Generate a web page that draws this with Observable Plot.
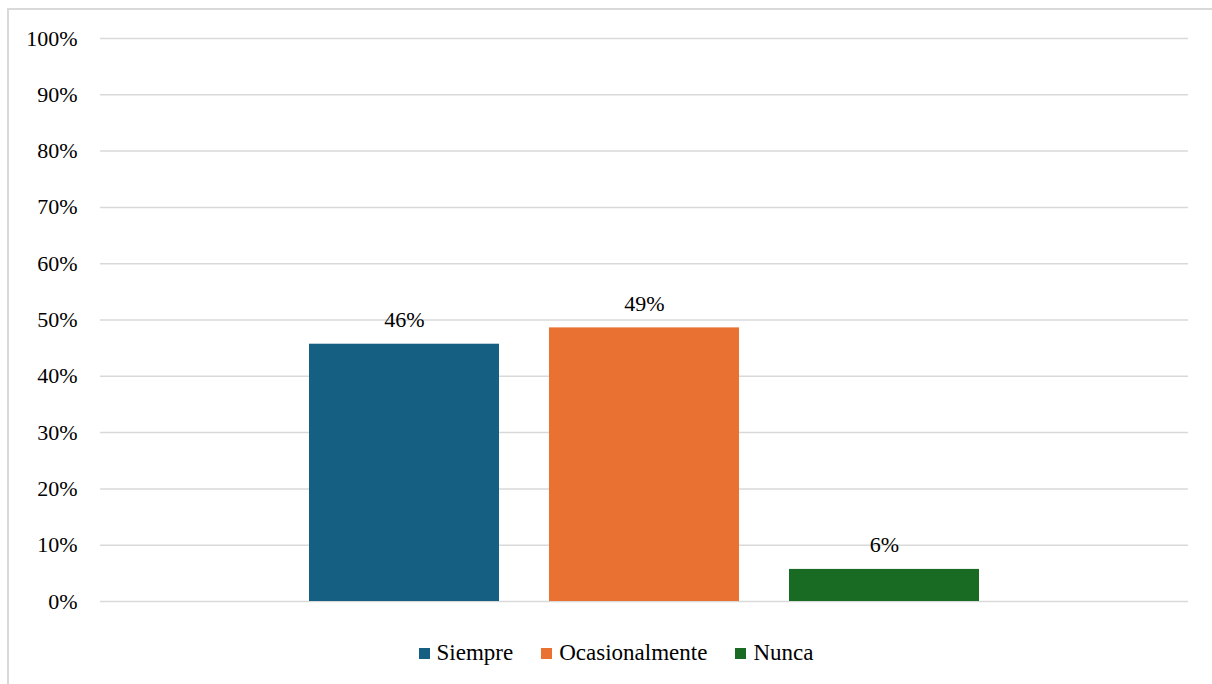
<!DOCTYPE html>
<html>
<head>
<meta charset="utf-8">
<script src="https://cdn.jsdelivr.net/npm/d3@7"></script>
<script src="https://cdn.jsdelivr.net/npm/@observablehq/plot@0.6"></script>
<style>
  html, body { margin: 0; padding: 0; background: #fff; }
  body { width: 1212px; height: 684px; position: relative; overflow: hidden; font-family: "Liberation Serif", "Times New Roman", serif; }
  #frame { position: absolute; left: 7px; top: 8px; width: 1300px; height: 800px; border-left: 2px solid #d9d9d9; border-top: 2px solid #d9d9d9; box-sizing: border-box; }
  #chart { position: absolute; left: 0; top: 0; }
  #chart svg text { font-family: "Liberation Serif", "Times New Roman", serif; }
  #legend { position: absolute; left: 0; top: 640px; width: 1232px; display: flex; justify-content: center; gap: 28px; font-size: 23px; color: #000; font-family: "Liberation Serif", "Times New Roman", serif; }
  .item { display: flex; align-items: center; gap: 7px; }
  .sw { width: 11px; height: 11px; display: inline-block; }
</style>
</head>
<body>
<div id="frame"></div>
<div id="chart"></div>
<div id="legend"></div>
<script>
const categories = ["Siempre", "Ocasionalmente", "Nunca"];
const values = [45.7, 48.6, 5.7];
const colors = ["#156082", "#E97132", "#196B24"];
const yTicks = [0, 10, 20, 30, 40, 50, 60, 70, 80, 90, 100];

const data = categories.map((c, i) => ({ category: c, value: values[i] }));

const chart = Plot.plot({
  width: 1212,
  height: 630,
  marginLeft: 100,
  marginRight: 24,
  marginTop: 38,
  marginBottom: 29,
  style: { fontSize: "22px", color: "#000", background: "transparent", fontFamily: "Liberation Serif, Times New Roman, serif" },
  x: { domain: categories, paddingInner: 0.21, paddingOuter: 0.863, axis: null },
  y: { domain: [0, 100], ticks: yTicks, tickFormat: d => d + "%", tickSize: 0, tickPadding: 23, label: null },
  color: { domain: categories, range: colors },
  marks: [
    Plot.ruleY(yTicks, { stroke: "#d9d9d9", strokeWidth: 1.5 }),
    Plot.barY(data, { x: "category", y: "value", fill: "category" }),
    Plot.text(data, { x: "category", y: "value", text: d => Math.round(d.value) + "%", lineAnchor: "bottom", dy: -17, fill: "#000", fontSize: 22 })
  ]
});
document.getElementById("chart").appendChild(chart);

const legend = document.getElementById("legend");
categories.forEach((c, i) => {
  const item = document.createElement("div");
  item.className = "item";
  const sw = document.createElement("span");
  sw.className = "sw";
  sw.style.background = colors[i];
  const label = document.createElement("span");
  label.textContent = c;
  item.appendChild(sw);
  item.appendChild(label);
  legend.appendChild(item);
});
</script>
</body>
</html>
